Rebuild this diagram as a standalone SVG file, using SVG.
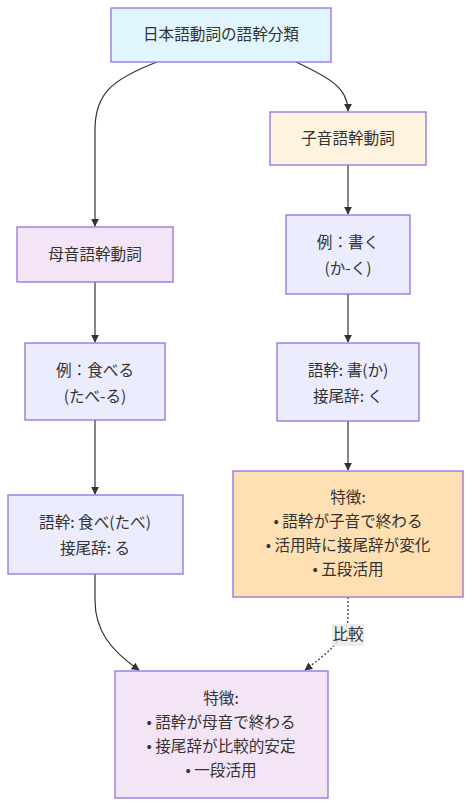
<svg xmlns="http://www.w3.org/2000/svg" width="471" height="806" viewBox="0 0 471 806">
<defs>
<marker id="arr" viewBox="0 0 10 10" refX="9" refY="5" markerWidth="8" markerHeight="8" markerUnits="userSpaceOnUse" orient="auto"><path d="M0,0 L10,5 L0,10 z" fill="#333"/></marker>
<style>
.n rect{stroke:#9370db;stroke-width:1.3}
.n text{font-family:"Noto Sans CJK JP","Noto Sans",sans-serif;font-size:15.6px;fill:#333;text-anchor:middle}
.e path{fill:none;stroke:#333;stroke-width:1.2;marker-end:url(#arr)}
.lbl{font-family:"Noto Sans CJK JP",sans-serif;font-size:15.6px;fill:#333;text-anchor:middle}
</style>
</defs>
<rect width="471" height="806" fill="#fff"/>
<g id="edges" class="e">
<path d="M157,62 C110,80 95,95 95,130 L95,226"/>
<path d="M296,62 C330,78 348,88 348,111"/>
<path d="M95,282 L95,342"/>
<path d="M95,420 L95,494"/>
<path d="M348,165 L348,214"/>
<path d="M348,294 L348,342"/>
<path d="M348,421 L348,470"/>
<path d="M95,574 L95,600 C95,630 110,650 139,670"/>
<path d="M348,597 L348,620 C345,640 325,655 305,670" stroke-dasharray="2,2"/>
<rect x="332" y="624" width="32" height="22" fill="#e8e8e8" opacity="0.8"/>
<text class="lbl" x="348" y="640">比較</text>
</g>
<g id="root" class="n"><rect x="111" y="8" width="220" height="54" fill="#e1f5fe"/><text x="221" y="40">日本語動詞の語幹分類</text></g>
<g id="consonant" class="n"><rect x="270" y="112" width="156" height="53" fill="#fff3e0"/><text x="348" y="144">子音語幹動詞</text></g>
<g id="vowel" class="n"><rect x="17" y="227" width="156" height="55" fill="#f3e5f5"/><text x="95" y="260">母音語幹動詞</text></g>
<g id="exKaku" class="n"><rect x="286" y="215" width="124" height="79" fill="#ececff"/><text x="348" y="248">例：書く</text><text x="348" y="274">(か-く)</text></g>
<g id="exTaberu" class="n"><rect x="25" y="343" width="140" height="77" fill="#ececff"/><text x="95" y="376">例：食べる</text><text x="95" y="402">(たべ-る)</text></g>
<g id="stemKa" class="n"><rect x="277" y="343" width="142" height="78" fill="#ececff"/><text x="348" y="376">語幹: 書(か)</text><text x="348" y="402">接尾辞: く</text></g>
<g id="stemTabe" class="n"><rect x="8" y="495" width="175" height="79" fill="#ececff"/><text x="95" y="528">語幹: 食べ(たべ)</text><text x="95" y="554">接尾辞: る</text></g>
<g id="featCons" class="n"><rect x="233" y="471" width="230" height="126" fill="#ffe0b2"/><text x="348" y="503">特徴:</text><text x="348" y="527">• 語幹が子音で終わる</text><text x="348" y="551">• 活用時に接尾辞が変化</text><text x="348" y="575">• 五段活用</text></g>
<g id="featVowel" class="n"><rect x="115" y="671" width="213" height="127" fill="#f3e5f5"/><text x="221" y="704">特徴:</text><text x="221" y="728">• 語幹が母音で終わる</text><text x="221" y="752">• 接尾辞が比較的安定</text><text x="221" y="776">• 一段活用</text></g>
</svg>
